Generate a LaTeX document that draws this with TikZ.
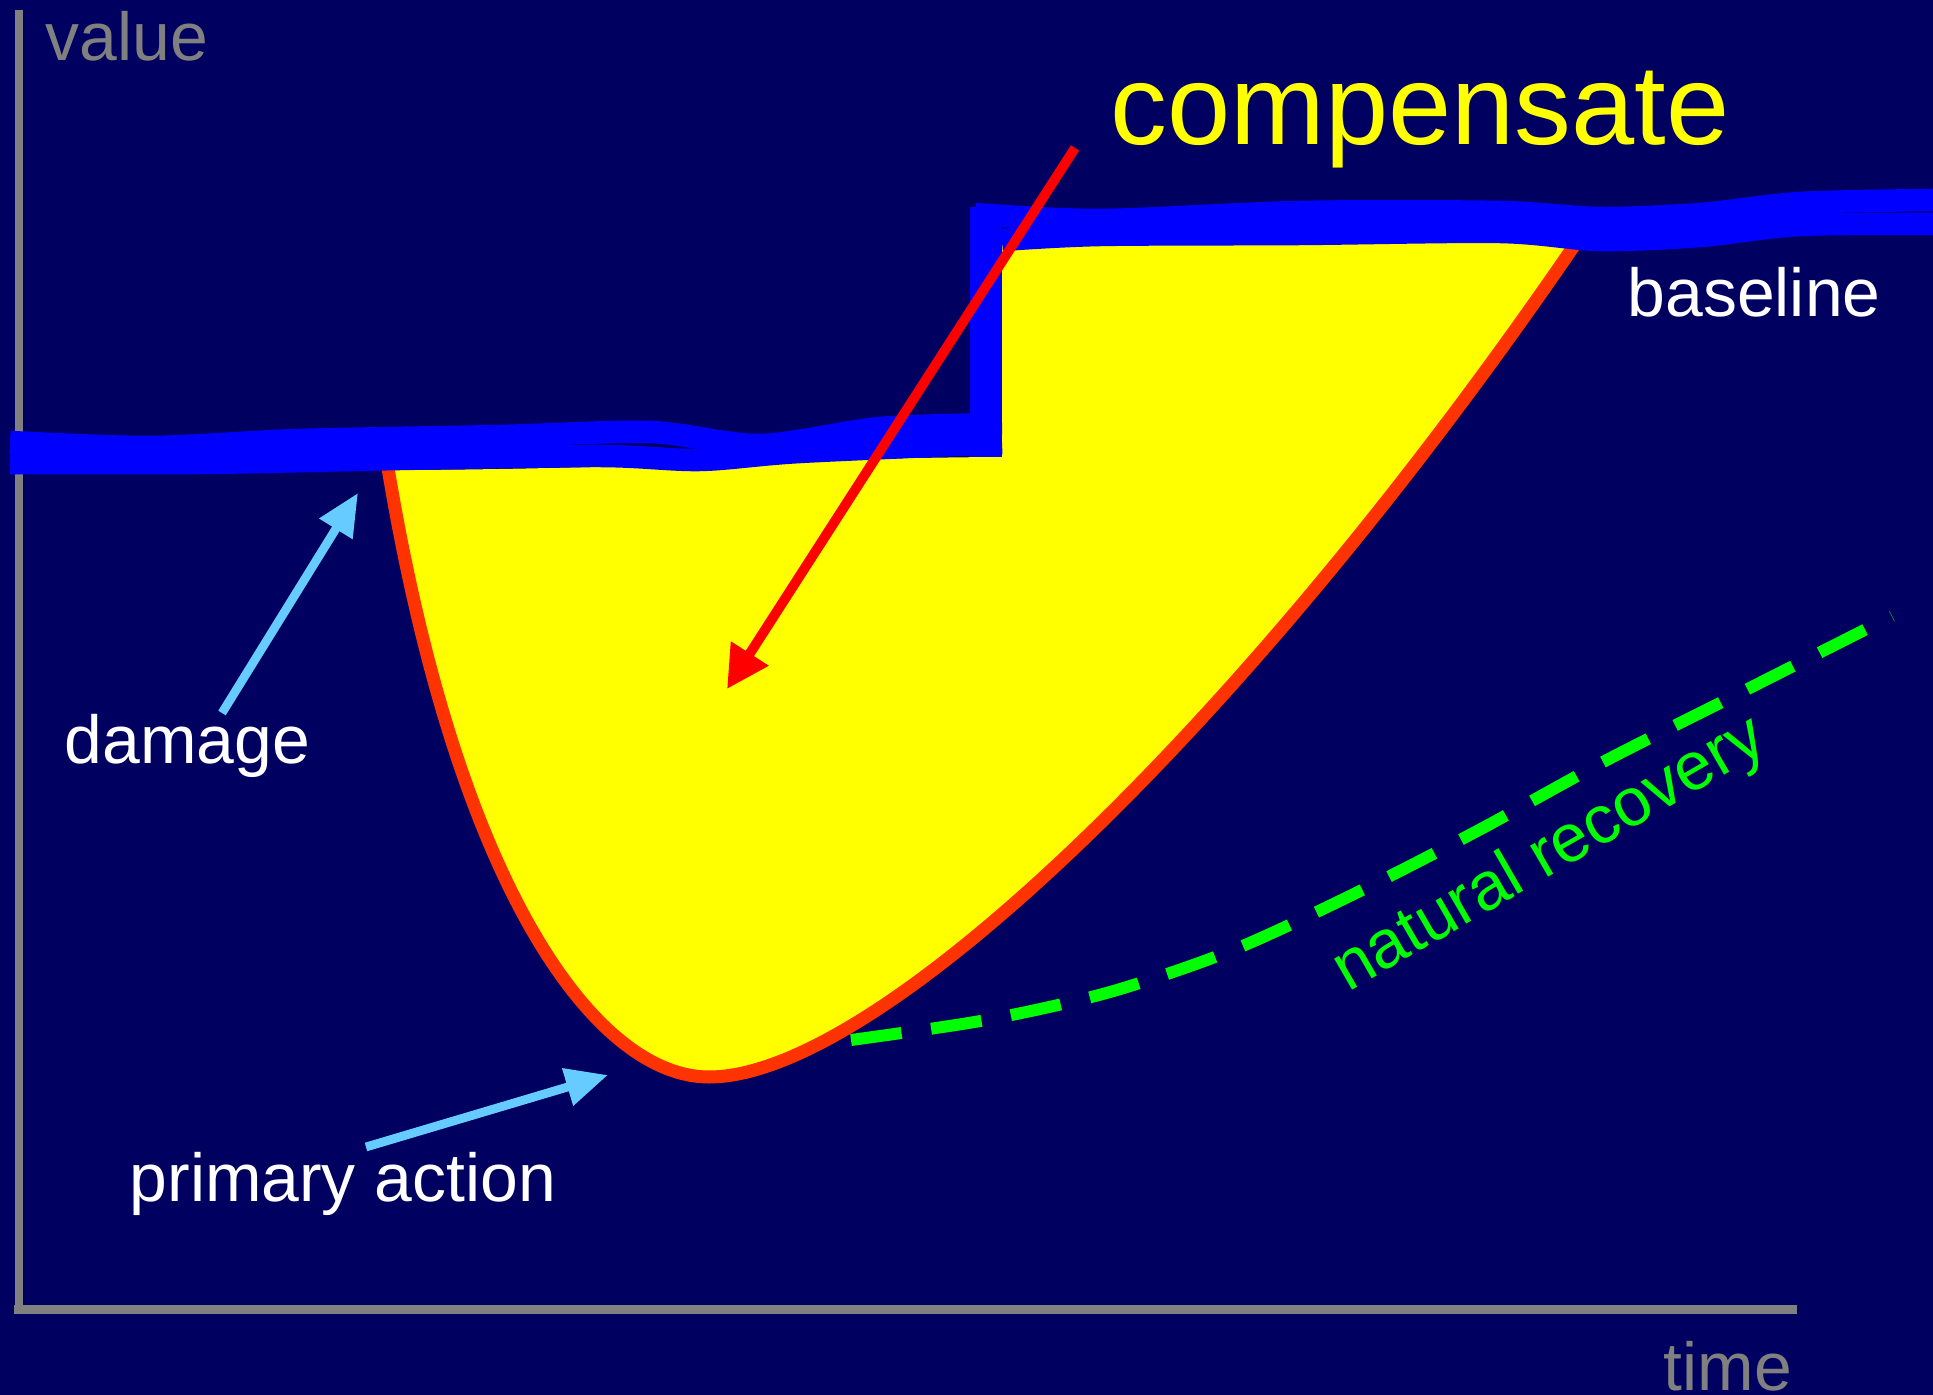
\documentclass[tikz,border=0pt]{standalone}
\usepackage{fontspec}
\setmainfont{Liberation Sans}
\usepackage{tikz}
\usetikzlibrary{arrows.meta}
\usepackage{xcolor}
\definecolor{navy}{HTML}{000060}
\definecolor{axisgray}{HTML}{808080}
\definecolor{lineblue}{HTML}{0000FF}
\definecolor{gainyellow}{HTML}{FFFF00}
\definecolor{lossred}{HTML}{FF3300}
\definecolor{arrowred}{HTML}{FF0000}
\definecolor{skyblue}{HTML}{66CCFF}
\definecolor{recgreen}{HTML}{00FF00}
\newcommand{\losspath}{(388,468) .. controls (460,900) and (600,1077) .. (709,1077) .. controls (880,1077) and (1250,720) .. (1578,240)}

\begin{document}
\begin{tikzpicture}[x=0.01cm,y=-0.01cm,
  lbl/.style={inner sep=0pt,font=\fontsize{19.3}{23}\selectfont},
  axisline/.style={axisgray,line width=2.55pt},
  bluestroke/.style={lineblue,line width=6.4pt},
  pointer/.style={skyblue,line width=2.5pt,-{Triangle[length=12pt,width=10.5pt]}}]
\fill[navy] (0,0) rectangle (1933,1395);
\useasboundingbox (0,0) rectangle (1933,1395);
% axes
\draw[axisline] (19,10)--(19,1310);
\draw[axisline] (14,1309.5)--(1797,1309.5);
\node[lbl,axisgray,anchor=base west] (value) at (45,61) {value};
\node[lbl,axisgray,anchor=base west] (time) at (1663,1390) {time};
% compensated area
\fill[gainyellow] \losspath -- (1002,245) -- (1002,457) .. controls (800,458) and (600,470) .. (388,470) -- cycle;
\draw[recgreen,line width=3.4pt,dash pattern=on 14.5pt off 8.5pt] plot[smooth] coordinates {(851,1040) (986,1020) (1110,992) (1233,950) (1356,893) (1479,830) (1603,762) (1726,700) (1892,616)};
\draw[lossred,line width=3.7pt] \losspath;
% baseline, with the step up
\draw[bluestroke] plot[smooth] coordinates {(10,442) (150,447) (300,440) (500,436) (650,432) (760,445) (880,428) (1002,424)};
\draw[bluestroke] plot[smooth] coordinates {(10,463) (200,463) (400,459) (600,456) (700,460) (800,452) (1002,443)};
\draw[lineblue,line width=9pt] (986,457)--(986,207);
\draw[bluestroke] plot[smooth] coordinates {(975,214) (1100,220) (1300,212) (1500,212) (1600,218) (1700,214) (1800,203) (1933,200)};
\draw[bluestroke] plot[smooth] coordinates {(1002,240) (1100,235) (1300,234) (1500,232) (1600,240) (1700,236) (1800,225) (1933,224)};
% labels
\node[inner sep=0pt,gainyellow,anchor=base west,font=\fontsize{32.3}{38}\selectfont] (compensate) at (1110,145) {compensate};
\node[lbl,white,anchor=base west] (baseline) at (1627,317) {baseline};
\node[lbl,white,anchor=base west] (damage) at (64,764) {damage};
\node[lbl,white,anchor=base west] (primary) at (129,1202) {primary action};
\node[lbl,recgreen,anchor=base,rotate=30] (natural) at (1559,871) {natural recovery};
% pointers
\coordinate (comptail) at (1075,148);
\coordinate (comptip) at (727,689);
\coordinate (damagetail) at (222,713);
\coordinate (damagetip) at (358,493);
\coordinate (primarytail) at (366,1147);
\coordinate (primarytip) at (608,1075);
\draw[arrowred,line width=2.8pt,-{Triangle[length=12pt,width=12pt]}] (comptail)--(comptip);
\draw[pointer] (damagetail)--(damagetip);
\draw[pointer] (primarytail)--(primarytip);
\end{tikzpicture}
\end{document}
